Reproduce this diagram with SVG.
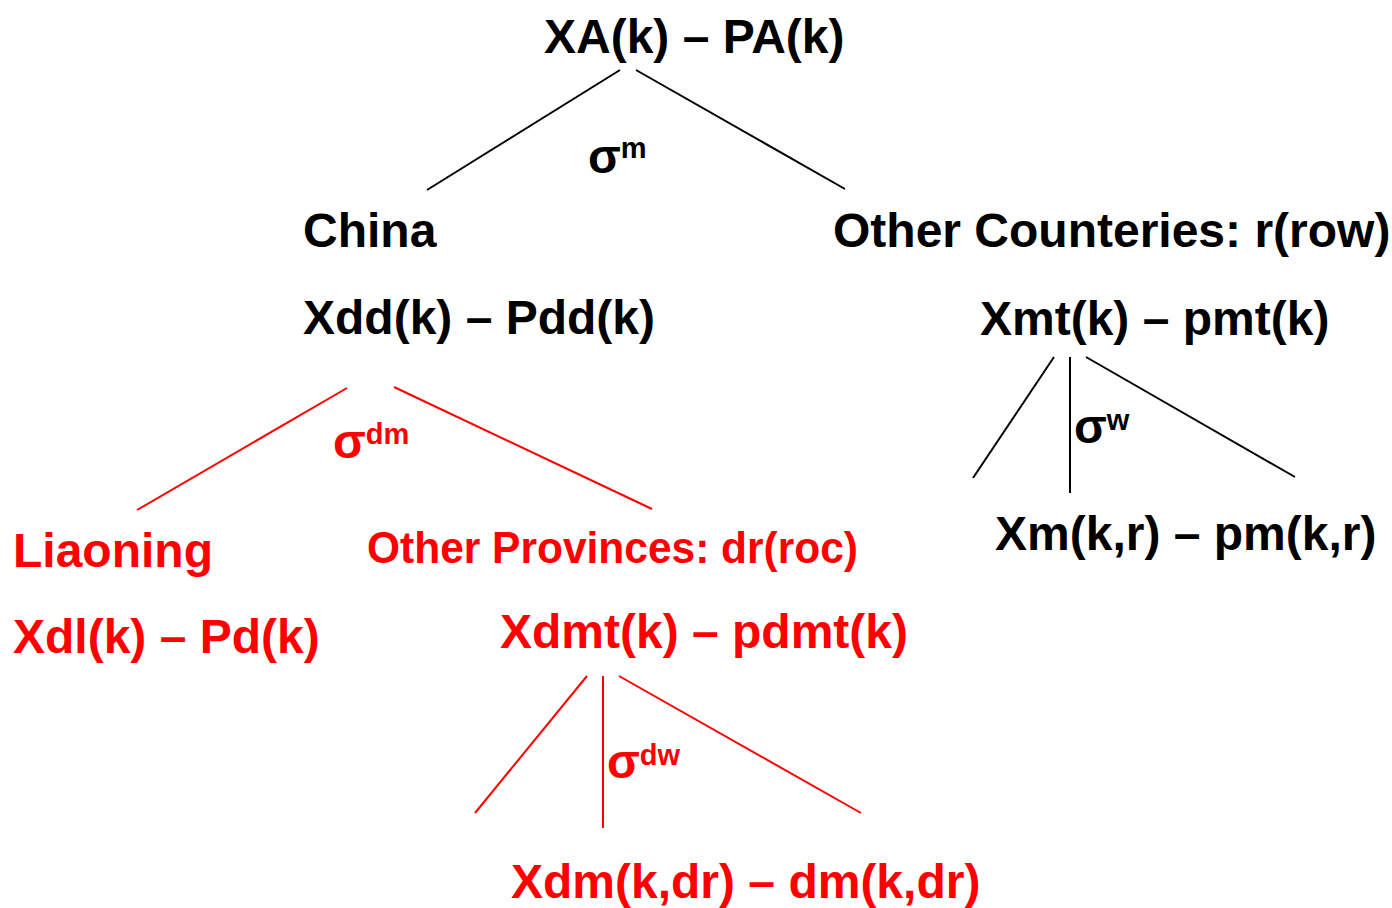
<svg xmlns="http://www.w3.org/2000/svg" width="1392" height="908" viewBox="0 0 1392 908">
<style>
text{font-family:"Liberation Sans",Arial,sans-serif;font-weight:bold;font-size:48px}
.k{fill:#000}
.r{fill:#ff0000}
.sig{font-size:48px}
.sup{font-size:29px}
line{stroke-width:2}
.lk{stroke:#000}
.lr{stroke:#ff0000}
</style>
<rect width="1392" height="908" fill="#fff"/>
<g id="connectors">
<line class="lk" x1="620" y1="70" x2="427" y2="190"/>
<line class="lk" x1="636" y1="70" x2="845" y2="189"/>
<line class="lr" x1="347" y1="388" x2="137" y2="510"/>
<line class="lr" x1="394" y1="387" x2="652" y2="509"/>
<line class="lk" x1="1054" y1="357" x2="973" y2="478"/>
<line class="lk" x1="1070" y1="357" x2="1070" y2="493"/>
<line class="lk" x1="1086" y1="357" x2="1295" y2="477"/>
<line class="lr" x1="587" y1="676" x2="475" y2="813"/>
<line class="lr" x1="603" y1="676" x2="603" y2="828"/>
<line class="lr" x1="619" y1="676" x2="861" y2="813"/>
</g>
<g id="labels">
<text class="k" x="588" y="173"><tspan class="sig">σ</tspan><tspan class="sup" dy="-15">m</tspan></text>
<text class="r" x="333" y="458"><tspan class="sig">σ</tspan><tspan class="sup" dy="-14">dm</tspan></text>
<text class="k" x="1074" y="443"><tspan class="sig">σ</tspan><tspan class="sup" dy="-13">w</tspan></text>
<text class="r" x="607" y="778"><tspan class="sig">σ</tspan><tspan class="sup" dy="-13">dw</tspan></text>
</g>
<g id="node-top"><text class="k" x="544" y="53">XA(k) – PA(k)</text></g>
<g id="node-china"><text class="k" x="303" y="247">China</text><text class="k" x="303" y="334">Xdd(k) – Pdd(k)</text></g>
<g id="node-row"><text class="k" x="833" y="247">Other Counteries: r(row)</text><text class="k" x="980" y="335">Xmt(k) – pmt(k)</text></g>
<g id="node-xm"><text class="k" x="995" y="550">Xm(k,r) – pm(k,r)</text></g>
<g id="node-liaoning"><text class="r" x="13" y="567">Liaoning</text><text class="r" x="13" y="653">Xdl(k) – Pd(k)</text></g>
<g id="node-roc"><text class="r" x="367" y="563" textLength="491" lengthAdjust="spacingAndGlyphs" style="font-size:44px">Other Provinces: dr(roc)</text><text class="r" x="500" y="648">Xdmt(k) – pdmt(k)</text></g>
<g id="node-xdm"><text class="r" x="511" y="898">Xdm(k,dr) – dm(k,dr)</text></g>
</svg>
